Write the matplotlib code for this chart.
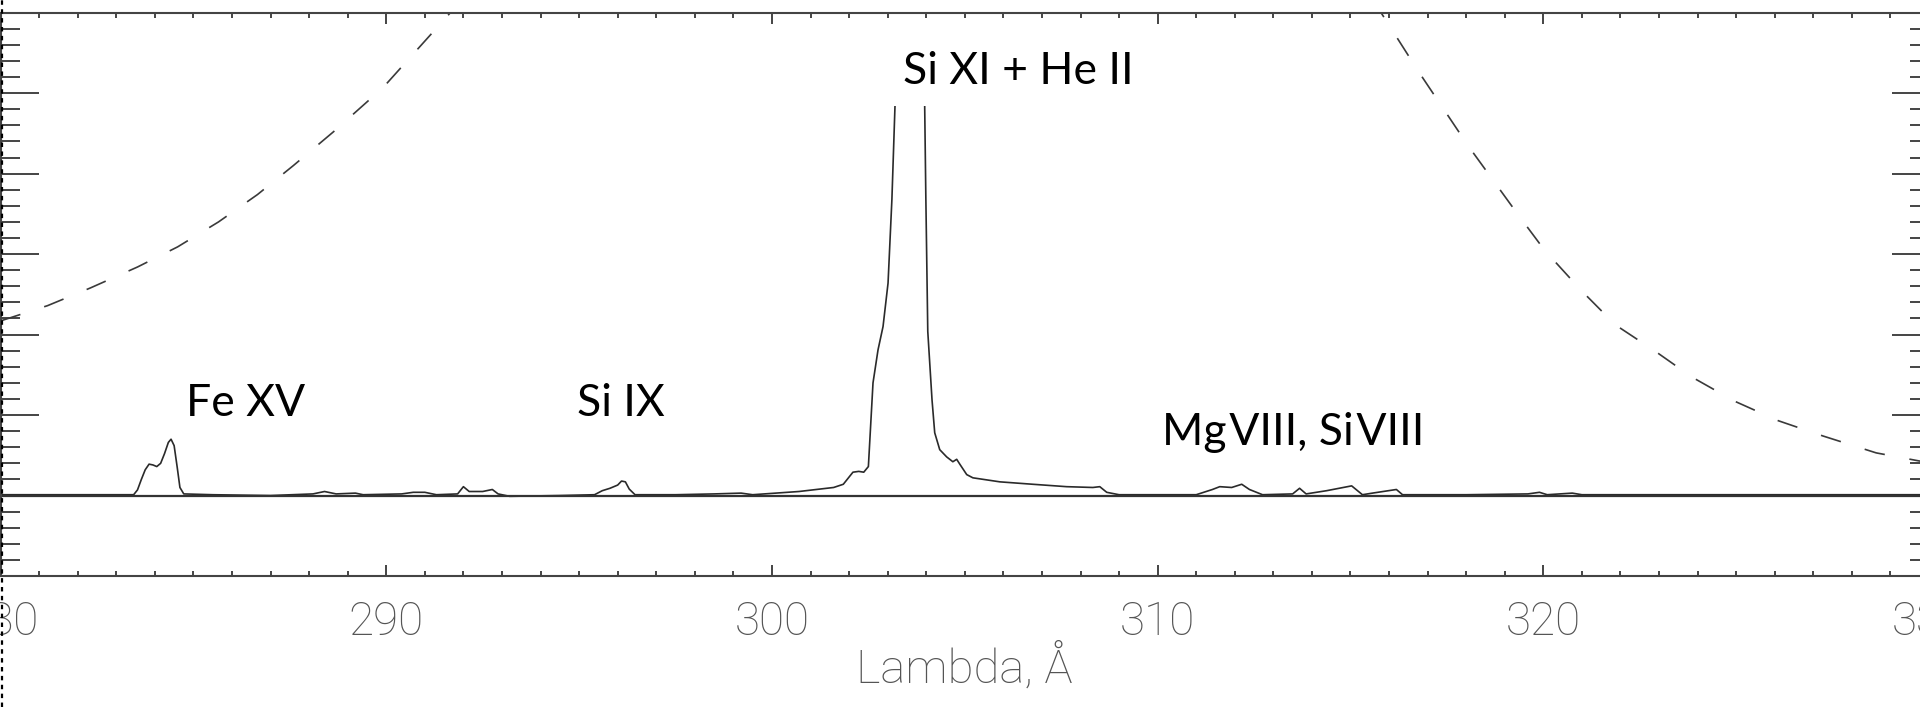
import numpy as np
import matplotlib.pyplot as plt
from matplotlib.lines import Line2D
from matplotlib.patches import Rectangle
from matplotlib.ticker import MultipleLocator

# spectrum: wavelength (Angstrom) and intensity (arbitrary units)
wave = [280.0, 283.45, 283.55, 283.65, 283.75, 283.85, 283.95, 284.05, 284.15, 284.25,
        284.35, 284.42, 284.5, 284.58, 284.65, 284.75, 285.5, 287.0, 288.1, 288.4,
        288.7, 289.2, 289.4, 290.4, 290.7, 291.0, 291.3, 291.85, 292.0, 292.15,
        292.5, 292.75, 292.9, 293.2, 294.5, 295.4, 295.6, 295.8, 296.0, 296.1,
        296.2, 296.3, 296.45, 297.5, 298.5, 299.2, 299.5, 300.7, 301.6, 301.85,
        302.1, 302.25, 302.38, 302.5, 302.62, 302.75, 302.88, 303.01, 303.11, 303.19,
        303.3, 303.55, 303.85, 303.96, 303.99, 304.04, 304.15, 304.22, 304.35, 304.53,
        304.69, 304.79, 304.87, 305.05, 305.21, 305.91, 306.76, 307.64, 308.32, 308.5,
        308.68, 309.0, 311.0, 311.42, 311.61, 311.92, 312.18, 312.38, 312.72, 313.5,
        313.68, 313.85, 314.38, 315.03, 315.31, 315.57, 316.19, 316.35, 318.0, 319.6,
        319.9, 320.1, 320.75, 321.0, 330.0]
flux = [0.01, 0.01, 0.07, 0.20, 0.32, 0.39, 0.38, 0.36, 0.40, 0.52,
        0.66, 0.70, 0.62, 0.35, 0.10, 0.02, 0.01, 0.00, 0.02, 0.05,
        0.02, 0.03, 0.01, 0.02, 0.04, 0.04, 0.01, 0.02, 0.11, 0.05,
        0.05, 0.075, 0.02, -0.01, 0.00, 0.01, 0.06, 0.09, 0.13, 0.18,
        0.17, 0.08, 0.01, 0.01, 0.02, 0.03, 0.01, 0.05, 0.10, 0.14,
        0.29, 0.30, 0.29, 0.36, 1.40, 1.81, 2.10, 2.64, 3.68, 4.84,
        9.0, 20.0, 9.0, 4.84, 3.70, 2.04, 1.19, 0.78, 0.57, 0.48,
        0.42, 0.45, 0.39, 0.26, 0.22, 0.17, 0.14, 0.11, 0.10, 0.11,
        0.04, 0.01, 0.01, 0.075, 0.11, 0.10, 0.14, 0.075, 0.01, 0.02,
        0.09, 0.02, 0.06, 0.12, 0.01, 0.03, 0.075, 0.01, 0.01, 0.02,
        0.04, 0.01, 0.03, 0.01, 0.01]

# filter response curve (dashed), same arbitrary units
resp_wave = [280.0, 281.22, 282.33, 283.55, 284.59, 285.65, 286.66, 287.59, 288.63,
             289.59, 290.03, 291.68, 292.6, 303.5, 315.0, 315.78, 316.79, 318.06,
             319.33, 320.03, 320.98, 321.87, 322.88, 323.86, 324.97, 326.09, 327.25,
             328.63, 329.74, 330.0]
resp_val = [2.17, 2.36, 2.58, 2.84, 3.09, 3.40, 3.74, 4.10, 4.52,
            4.93, 5.13, 6.01, 6.6, 14.0, 6.7, 6.01, 5.25, 4.34,
            3.50, 3.05, 2.55, 2.12, 1.80, 1.47, 1.17, 0.93, 0.74,
            0.53, 0.43, 0.41]

line_names = ["Fe XV", "Si IX", "Si XI + He II", "Mg\u200aVIII, Si\u200aVIII"]
line_pos = [(284.8, 0.99), (294.95, 0.99), (303.4, 5.11), (310.1, 0.63)]

fig = plt.figure(figsize=(19.2, 7.07), dpi=100)
ax = fig.add_axes([0.0003, 0.1853, 1.0044, 0.7967])

ax.set_xlim(280, 330)
ax.set_ylim(-1, 6)

# main peak is cut off below the label, as in the original figure
clip = Rectangle((280, -1), 50, 5.84, transform=ax.transData)
spec, = ax.plot(wave, flux, color="#2a2a2a", lw=1.2)
spec.set_clip_path(clip)

ax.axhline(0, color="#333333", lw=1.6)
ax.plot(resp_wave, resp_val, color="#3a3a3a", lw=1.2, dashes=(12.5, 15))

for name, (x, y) in zip(line_names, line_pos):
    ax.text(x, y, name, fontsize=32, family=["Lato", "DejaVu Sans"],
            color="black", va="baseline")

for s in ax.spines.values():
    s.set_color("#444444")
    s.set_linewidth(1.5)

ax.xaxis.set_major_locator(MultipleLocator(10))
ax.xaxis.set_minor_locator(MultipleLocator(1))
ax.yaxis.set_major_locator(MultipleLocator(1))
ax.yaxis.set_minor_locator(MultipleLocator(0.2))

ax.tick_params(axis="x", which="major", direction="in", length=8, width=1.4,
               color="#444444", top=True, bottom=True, pad=17,
               labelsize=33, labelcolor="#555555")
ax.tick_params(axis="x", which="minor", direction="in", length=3.6, width=1.4,
               color="#444444", top=True, bottom=True)
ax.tick_params(axis="y", which="major", direction="in", length=27, width=1.4,
               color="#444444", left=True, right=True, labelleft=False)
ax.tick_params(axis="y", which="minor", direction="in", length=13.5, width=1.4,
               color="#444444", left=True, right=True)
for lab in ax.get_xticklabels():
    lab.set_family("Roboto")
    lab.set_fontweight("light")

ax.set_xlabel("Lambda, Å", fontsize=34, family="Roboto", fontweight="light",
              color="#555555", labelpad=0)

# dotted crop mark along the left edge
fig.add_artist(Line2D([1.5 / 1920, 1.5 / 1920], [0, 1], transform=fig.transFigure,
                      color="black", lw=1.6, linestyle=(0, (2, 2))))

fig.savefig("out.png", dpi=100)
